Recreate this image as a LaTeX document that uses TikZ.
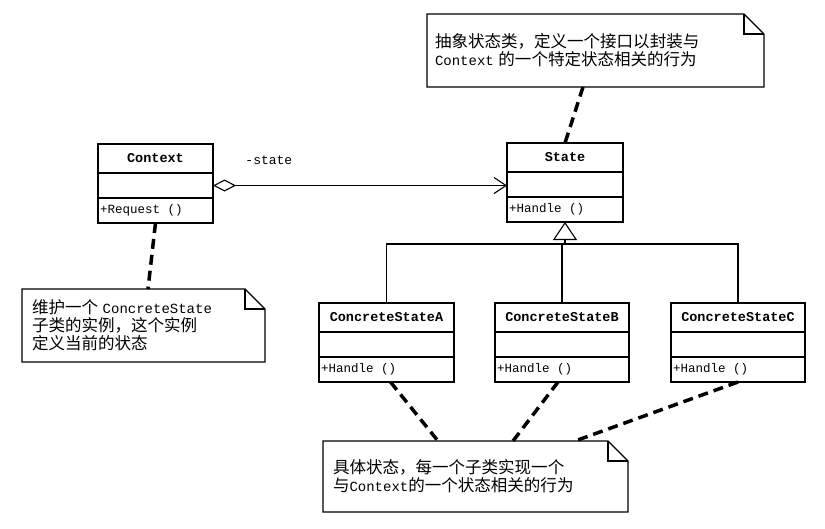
\documentclass[tikz,border=0pt]{standalone}
\usepackage{fontspec}
\setmainfont{Liberation Mono}
\newfontfamily\cjk[Scale=1.18]{Noto Sans CJK SC}
\usetikzlibrary{positioning}
\usetikzlibrary{arrows.meta}
\tikzstyle{classname}=[draw,anchor=north west,minimum height=29pt,inner sep=0pt,outer sep=0pt,font=\fontsize{13.5}{16}\selectfont\bfseries]
\tikzstyle{classattr}=[draw,minimum height=25pt,inner sep=0pt,outer sep=0pt]
\tikzstyle{classop}=[draw,minimum height=25pt,inner sep=0pt,outer sep=0pt,font=\fontsize{12.5}{15}\selectfont]
\tikzstyle{umlnote}=[outer sep=0pt,inner ysep=0pt,align=left,font=\fontsize{14}{18}\selectfont]
\tikzstyle{notelink}=[draw,line width=3.5pt,dash pattern=on 10pt off 6pt]
\tikzstyle{edge}=[draw]

\begin{document}
\begin{tikzpicture}[x=1pt,y=-1pt,line width=1.1pt]
    \useasboundingbox (0,0) rectangle (825,528);

    % classes: name, attribute and operation compartments
    \foreach \name/\pos/\cw/\cname/\meth in {{ctx/(98,144)/115pt/Context/+Request ()},
        {state/(507,143)/116pt/State/+Handle ()},
        {stateA/(319,303)/135pt/ConcreteStateA/+Handle ()},
        {stateB/(495,303)/134pt/ConcreteStateB/+Handle ()},
        {stateC/(671,303)/134pt/ConcreteStateC/+Handle ()}}
    {
        \node[classname,minimum width=\cw] (\name) at \pos {\cname};
        \node[classattr,minimum width=\cw,below=0pt of \name] (\name-attr) {};
        \node[classop,minimum width=\cw,below=0pt of \name-attr] (\name-op) {\makebox[\cw][l]{\hspace*{2pt}\meth}};
    }

    % aggregation
    \path[edge,{Diamond[open,length=23pt,width=12pt]}-{Straight Barb[length=12pt,width=16pt]}]
        (ctx-attr.east) -- node[pos=0.19,above=17pt,font=\fontsize{13}{15}\selectfont] (lblstate) {-state} (state-attr.west |- ctx-attr.east);

    % inheritance
    \coordinate (join) at (565,244);
    \path[edge,-{Triangle[open,length=18pt,width=24pt]}] (join) -- (state-op.south);
    \path[edge] (stateA.north) |- (join) -| (stateC.north);
    \path[edge] (stateB.north) -- (stateB.north |- join);

    % notes
    \node[umlnote,minimum width=337pt,minimum height=73pt,inner xsep=8pt,text width=321pt] (notestate) at (595.5,50.5)
        {{\cjk 抽象状态类，定义一个接口以封装与}\\Context {\cjk 的一个特定状态相关的行为}};
    \node[umlnote,minimum width=243pt,minimum height=73pt,inner xsep=10pt,text width=223pt] (notectx) at (143.5,325.5)
        {{\cjk 维护一个} ConcreteState\\{\cjk 子类的实例，这个实例}\\{\cjk 定义当前的状态}};
    \node[umlnote,minimum width=305pt,minimum height=71pt,inner xsep=10pt,text width=285pt] (noteconc) at (475.5,476.5)
        {{\cjk 具体状态，每一个子类实现一个}\\{\cjk 与}Context{\cjk 的一个状态相关的行为}};

    \foreach \n in {notestate,notectx,noteconc}
    {
        \draw (\n.north west) -- ([xshift=-20pt]\n.north east) -- ([yshift=-20pt]\n.north east)
            -- (\n.south east) -- (\n.south west) -- cycle;
        \draw ([xshift=-20pt]\n.north east) -- ([xshift=-20pt,yshift=-20pt]\n.north east) -- ([yshift=-20pt]\n.north east);
    }

    % note links
    \path[notelink] ([xshift=-12.5pt]notestate.south) -- (state.north);
    \path[notelink] (ctx-op.south) -- ([xshift=4.5pt]notectx.north);
    \path[notelink] ([xshift=4pt]stateA-op.south) -- ([xshift=-37.5pt]noteconc.north);
    \path[notelink] ([xshift=-4pt]stateB-op.south) -- ([xshift=37.5pt]noteconc.north);
    \path[notelink] (stateC-op.south) -- ([xshift=99.5pt]noteconc.north);
\end{tikzpicture}
\end{document}
